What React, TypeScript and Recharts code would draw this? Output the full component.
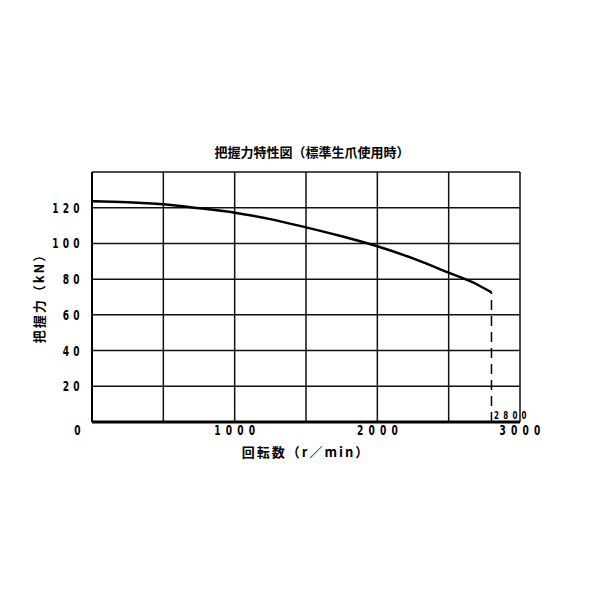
import React from 'react';
import {
  LineChart,
  Line,
  XAxis,
  YAxis,
  CartesianGrid,
  ReferenceLine,
} from 'recharts';

// rpm values along the curve
const speeds = [0, 250, 500, 750, 1000, 1250, 1500, 1750, 2000, 2250, 2500, 2700, 2800];
// gripping force (kN)
const forces = [123.6, 123.1, 121.9, 119.7, 117.2, 113.6, 109.0, 104.0, 98.4, 91.6, 83.6, 77.0, 72.6];

const xTicks = [0, 500, 1000, 1500, 2000, 2500, 3000];
const xLabels = ['0', '', '1000', '', '2000', '', '3000'];
const yTicks = [0, 20, 40, 60, 80, 100, 120, 140];
const yLabels = ['', '20', '40', '60', '80', '100', '120', ''];

const maxSpeed = 2800;
const maxSpeedForce = 72.6;

const data = speeds.map((s, i) => ({ rpm: s, force: forces[i] }));

const digitFont = "'DejaVu Sans Condensed', 'DejaVu Sans', sans-serif";
const jpFont = "'Noto Sans CJK JP', sans-serif";

// draws a string as narrow fixed-pitch characters, like the old plotter text
const Spaced = ({ text, x, y, pitch, size, anchor }: any) => {
  const n = text.length;
  let first = x;
  if (anchor === 'middle') first = x - ((n - 1) * pitch) / 2;
  if (anchor === 'end') first = x - (n - 1) * pitch;
  return (
    <g>
      {text.split('').map((c: string, i: number) => (
        <text
          key={i}
          transform={`translate(${first + i * pitch} ${y}) scale(0.72 1)`}
          x={0}
          y={0}
          textAnchor="middle"
          fontFamily={digitFont}
          fontWeight="bold"
          fontSize={size}
          fill="#000"
        >
          {c}
        </text>
      ))}
    </g>
  );
};

const XTick = (props: any) => {
  const { x, payload } = props;
  const idx = xTicks.indexOf(payload.value);
  const label = xLabels[idx];
  if (!label) return null;
  const dx = payload.value === 0 ? -14.5 : 0;
  return <Spaced text={label} x={x + dx} y={435} pitch={11.5} size={14} anchor="middle" />;
};

const YTick = (props: any) => {
  const { y, payload } = props;
  const idx = yTicks.indexOf(payload.value);
  const label = yLabels[idx];
  if (!label) return null;
  return <Spaced text={label} x={76.5} y={y + 5} pitch={10.5} size={14} anchor="end" />;
};

const MaxLabel = (props: any) => {
  const { viewBox } = props;
  if (!viewBox) return null;
  return (
    <Spaced
      text={String(maxSpeed)}
      x={viewBox.x + 5}
      y={viewBox.y + viewBox.height - 3}
      pitch={9.2}
      size={11}
      anchor="start"
    />
  );
};

const App: React.FC = () => {
  return (
    <div style={{ position: 'absolute', left: 0, top: 0, width: 600, height: 600, background: '#fff' }}>
      <LineChart
        width={600}
        height={600}
        data={data}
        margin={{ top: 172, right: 80, left: 32, bottom: 148 }}
      >
        <text
          x={312}
          y={157}
          textAnchor="middle"
          fontFamily={jpFont}
          fontWeight="bold"
          fontSize={13}
          fill="#000"
        >
          把握力特性図（標準生爪使用時）
        </text>
        <text
          x={306}
          y={457}
          textAnchor="middle"
          fontFamily={jpFont}
          fontWeight="bold"
          fontSize={13}
          letterSpacing={2}
          fill="#000"
        >
          回転数（r／min）
        </text>
        <text
          x={44}
          y={295}
          textAnchor="middle"
          transform="rotate(-90 44 295)"
          fontFamily={jpFont}
          fontWeight="bold"
          fontSize={13}
          letterSpacing={2}
          fill="#000"
        >
          把握力（kN）
        </text>
        <CartesianGrid stroke="#111" strokeWidth={1.5} />
        <XAxis
          dataKey="rpm"
          type="number"
          domain={[0, 3000]}
          ticks={xTicks}
          height={30}
          axisLine={{ stroke: '#000', strokeWidth: 3 }}
          tickLine={false}
          tick={<XTick />}
          interval={0}
        />
        <YAxis
          type="number"
          domain={[0, 140]}
          ticks={yTicks}
          width={60}
          axisLine={{ stroke: '#000', strokeWidth: 2 }}
          tickLine={false}
          tick={<YTick />}
          interval={0}
        />
        <ReferenceLine
          segment={[
            { x: maxSpeed, y: 0 },
            { x: maxSpeed, y: maxSpeedForce },
          ]}
          stroke="#000"
          strokeWidth={1.5}
          strokeDasharray="10 6"
          label={<MaxLabel />}
        />
        <Line
          type="monotone"
          dataKey="force"
          stroke="#000"
          strokeWidth={2.5}
          dot={false}
          isAnimationActive={false}
        />
      </LineChart>
    </div>
  );
};

export default App;
